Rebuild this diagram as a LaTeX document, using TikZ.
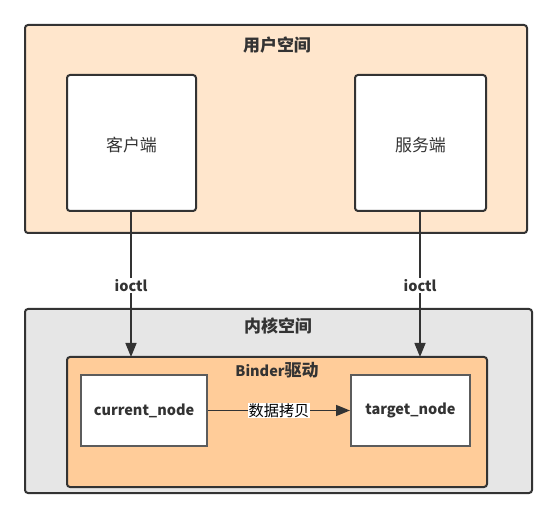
\documentclass[tikz,border=0pt]{standalone}
\usepackage{fontspec}
\setmainfont{Noto Sans CJK SC}
\newfontfamily\cjk[Scale=1.17]{Noto Sans CJK SC}
\usetikzlibrary{arrows.meta}
\definecolor{edge}{HTML}{333333}
\definecolor{userfill}{HTML}{FFE6CC}
\definecolor{kernfill}{HTML}{E6E6E6}
\definecolor{binderfill}{HTML}{FFCC99}
\definecolor{txt}{HTML}{333333}
\begin{document}
\begin{tikzpicture}[x=1pt,y=-1pt,
  area/.style={draw=edge,line width=2pt,rounded corners=3pt},
  endbox/.style={draw=edge,fill=white,line width=2pt,rounded corners=3pt},
  nodebox/.style={draw=edge!80,fill=white,line width=2pt},
  ttl/.style={font=\fontsize{14.5}{17}\selectfont\bfseries,text=txt},
  lbl/.style={font=\fontsize{14.5}{17}\selectfont,text=txt},
  conn/.style={draw=edge,line width=1.5pt,-{Triangle[length=14pt,width=11pt]}}]
\useasboundingbox (0,0) rectangle (557,518);
% user space
\draw[area,fill=userfill] (25,25) rectangle (527,233);
\node[ttl] (usert) at (277,45) {\cjk 用户空间};
\draw[endbox] (67,75) rectangle (196,211);
\node[lbl] (clit) at (131.5,145) {\cjk 客户端};
\draw[endbox] (355,75) rectangle (486,211);
\node[lbl] (srvt) at (420.5,145) {\cjk 服务端};
% kernel
\draw[area,fill=kernfill] (25,309) rectangle (532,493);
\node[ttl] (kernt) at (278,326) {\cjk 内核空间};
\draw[area,fill=binderfill] (67,357) rectangle (487,487);
\node[ttl] (bindt) at (277,370) {Binder{\cjk 驱动}};
\node[nodebox,minimum width=126pt,minimum height=71pt,ttl] (cur) at (144,410.5) {current\_node};
\node[nodebox,minimum width=119pt,minimum height=71pt,ttl] (tgt) at (410.5,410.5) {target\_node};
% connectors
\coordinate (c1) at (131,212);
\coordinate (c2) at (131,357);
\coordinate (s1) at (420,212);
\coordinate (s2) at (420,357);
\draw[conn] (c1) -- node[ttl,fill=white,inner sep=1pt,pos=0.507] (io1) {ioctl} (c2);
\draw[conn] (s1) -- node[ttl,fill=white,inner sep=1pt,pos=0.507] (io2) {ioctl} (s2);
\draw[conn] (cur.east) -- node[font=\fontsize{13}{15}\selectfont,text=black,fill=white,inner sep=0.5pt,pos=0.5] (copy) {\cjk 数据拷贝} (tgt.west);
\end{tikzpicture}
\end{document}
